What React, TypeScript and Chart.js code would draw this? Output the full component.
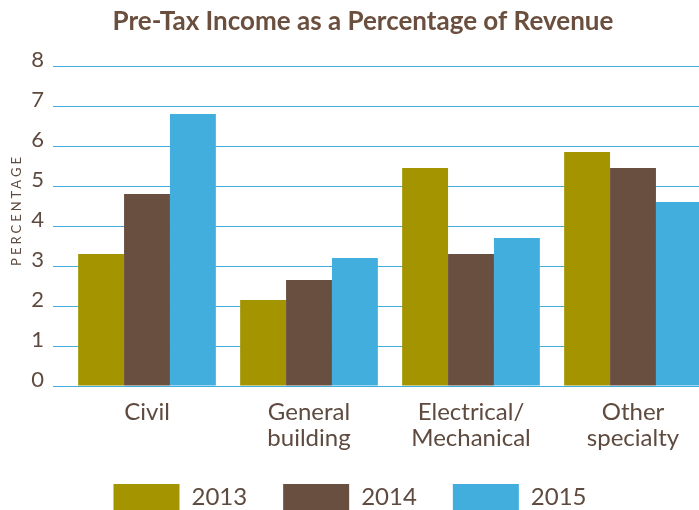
import React, { useEffect, useRef } from 'react';
import { Chart, registerables } from 'chart.js';

Chart.register(...registerables);

const TITLE = 'Pre-Tax Income as a Percentage of Revenue';
const Y_TITLE = 'PERCENTAGE';
const categories: string[][] = [
  ['Civil'],
  ['General', 'building'],
  ['Electrical/', 'Mechanical'],
  ['Other', 'specialty'],
];
const seriesNames = ['2013', '2014', '2015'];
const values2013 = [3.3, 2.15, 5.45, 5.85];
const values2014 = [4.8, 2.65, 3.3, 5.45];
const values2015 = [6.8, 3.2, 3.7, 4.6];
const yMin = 0;
const yMax = 8;
const yStep = 1;

const COLORS = ['#a39400', '#684f40', '#42aedd'];
const TEXT = '#5e4a3f';
const TITLE_COLOR = '#6b4f3e';
const GRID = '#41addc';
const FONT = 'Lato, "Open Sans", sans-serif';

const yTitlePlugin = {
  id: 'spacedYTitle',
  afterDraw(chart: any) {
    const { ctx, chartArea } = chart;
    ctx.save();
    (ctx as any).letterSpacing = '3px';
    ctx.font = `13px ${FONT}`;
    ctx.fillStyle = TEXT;
    ctx.textAlign = 'center';
    ctx.textBaseline = 'middle';
    const cy = chartArea.top + (chartArea.bottom - chartArea.top) * 0.45;
    ctx.translate(17, cy);
    ctx.rotate(-Math.PI / 2);
    ctx.fillText(Y_TITLE, 0, 0);
    ctx.restore();
  },
};

const shiftPlugin = {
  id: 'shiftBoxes',
  afterLayout(chart: any) {
    const t = chart.titleBlock;
    if (t) {
      t.left += 6;
      t.right += 6;
    }
    const l = chart.legend;
    if (l) {
      l.left -= 7;
      l.right -= 7;
      l.top -= 16;
      l.bottom -= 16;
    }
  },
};

export default function App() {
  const ref = useRef<HTMLCanvasElement | null>(null);

  useEffect(() => {
    if (!ref.current) return;
    const values = [values2013, values2014, values2015];
    const chart = new Chart(ref.current, {
      type: 'bar',
      data: {
        labels: categories,
        datasets: seriesNames.map((name, i) => ({
          label: name,
          data: values[i],
          backgroundColor: COLORS[i],
          borderWidth: 0,
          categoryPercentage: 0.85,
          barPercentage: 1.0,
        })),
      },
      options: {
        responsive: false,
        animation: false,
        devicePixelRatio: 1,
        layout: { padding: 0 },
        plugins: {
          tooltip: { enabled: false },
          title: {
            display: true,
            text: TITLE,
            color: TITLE_COLOR,
            font: { family: FONT, size: 26, weight: 'bold' },
            padding: { top: 6.4, bottom: 28.4 },
          },
          legend: {
            display: true,
            position: 'bottom',
            labels: {
              boxWidth: 66,
              boxHeight: 26,
              padding: 36,
              color: TEXT,
              font: { family: FONT, size: 24 },
            },
          },
        },
        scales: {
          x: {
            grid: { display: false, drawTicks: false },
            border: { display: false },
            ticks: {
              color: TEXT,
              font: { family: FONT, size: 24, lineHeight: 1.05 },
              padding: 14,
              maxRotation: 0,
              autoSkip: false,
            },
            afterFit: (s: any) => {
              s.height = 78;
            },
          },
          y: {
            min: yMin,
            max: yMax,
            grid: {
              color: GRID,
              lineWidth: 1,
              drawTicks: true,
              tickLength: 13,
            },
            border: { display: false },
            ticks: {
              stepSize: yStep,
              color: TEXT,
              font: { family: FONT, size: 22 },
              padding: 9,
              labelOffset: -6,
            },
            afterFit: (s: any) => {
              s.width = 66;
            },
          },
        },
      },
      plugins: [yTitlePlugin, shiftPlugin],
    });
    return () => chart.destroy();
  }, []);

  return (
    <div
      style={{
        position: 'absolute',
        left: 0,
        top: 0,
        width: 699,
        height: 510,
        overflow: 'hidden',
        background: '#ffffff',
      }}
    >
      <canvas ref={ref} width={714} height={536} style={{ width: 714, height: 536, display: 'block' }} />
    </div>
  );
}
